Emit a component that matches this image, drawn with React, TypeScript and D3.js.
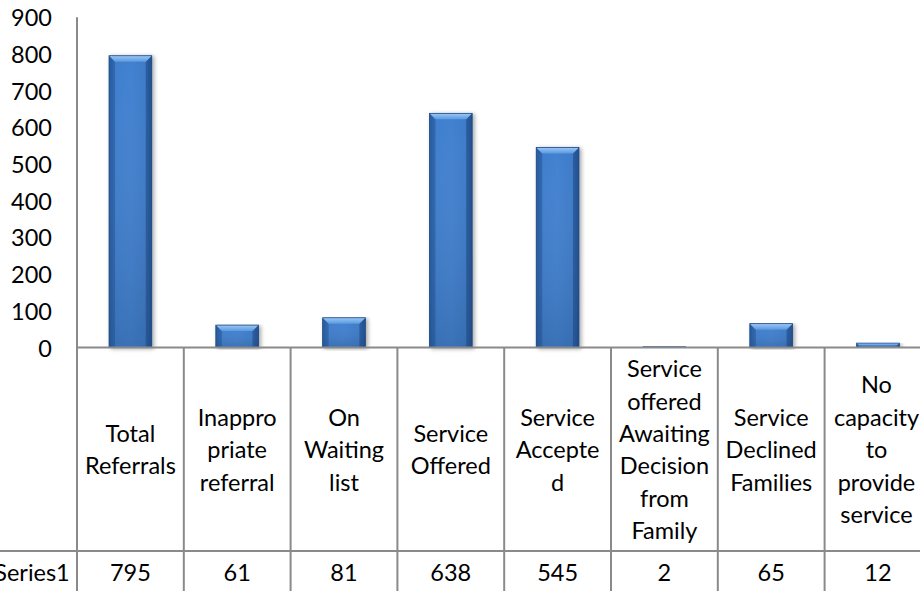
import React from "react";
import * as d3 from "d3";

const categories: string[][] = [
  ["Total", "Referrals"],
  ["Inappro", "priate", "referral"],
  ["On", "Waiting", "list"],
  ["Service", "Offered"],
  ["Service", "Accepte", "d"],
  ["Service", "offered", "Awaiting", "Decision", "from", "Family"],
  ["Service", "Declined", "Families"],
  ["No", "capacity", "to", "provide", "service"],
];
const series1: number[] = [795, 61, 81, 638, 545, 2, 65, 12];
const seriesName = "Series1";
const yTicks: number[] = [0, 100, 200, 300, 400, 500, 600, 700, 800, 900];

const W = 920;
const H = 591;
const axisX = 77;
const plotRight = 931.4;
const yTop = 17.2;
const yZero = 347.5;
const rowSplit = 551;
const FONT = "Lato, 'Open Sans', sans-serif";
const FS = 23.5;
const LINE = 32.4;
const GRAY = "#8a8a8a";

export default function App() {
  const keys = categories.map((_, i) => String(i));
  const y = d3.scaleLinear().domain([0, 900]).range([yZero, yTop]);
  const xBar = d3.scaleBand<string>().domain(keys).range([axisX, plotRight]).paddingInner(0.6).paddingOuter(0.3);
  const xCell = d3.scaleBand<string>().domain(keys).range([axisX, plotRight]).padding(0);
  const headerMid = (yZero + rowSplit) / 2;

  return (
    <svg width={W} height={H} style={{ position: "absolute", left: 0, top: 0, background: "#fff" }}>
      <defs>
        <linearGradient id="body" x1="0" x2="1" y1="0" y2="0">
          <stop offset="0" stopColor="#2f66ad" />
          <stop offset="0.12" stopColor="#3f7ecd" />
          <stop offset="0.5" stopColor="#4281d0" />
          <stop offset="0.88" stopColor="#3d7ac7" />
          <stop offset="1" stopColor="#2b5c9b" />
        </linearGradient>
        <linearGradient id="bodyV" x1="0" x2="0" y1="0" y2="1">
          <stop offset="0" stopColor="#ffffff" stopOpacity="0" />
          <stop offset="1" stopColor="#000000" stopOpacity="0.12" />
        </linearGradient>
        <linearGradient id="topFace" x1="0" x2="0" y1="0" y2="1">
          <stop offset="0" stopColor="#9cc8f5" />
          <stop offset="1" stopColor="#5a98e0" />
        </linearGradient>
        <filter id="shadow" x="-20%" y="-5%" width="150%" height="115%">
          <feGaussianBlur in="SourceAlpha" stdDeviation="2" />
          <feOffset dx="1.5" dy="1" result="b" />
          <feComponentTransfer>
            <feFuncA type="linear" slope="0.35" />
          </feComponentTransfer>
          <feMerge>
            <feMergeNode />
            <feMergeNode in="SourceGraphic" />
          </feMerge>
        </filter>
      </defs>

      {yTicks.map((t) => (
        <text key={t} x={52} y={y(t)} textAnchor="end" dominantBaseline="central" fontFamily={FONT} fontSize={FS} fill="#000">
          {t}
        </text>
      ))}

      {series1.map((v, i) => {
        const x0 = xBar(String(i))!;
        const bw = xBar.bandwidth();
        const top = y(v);
        const h = yZero - top;
        const b = Math.min(6, h * 0.5, bw / 4);
        const x1 = x0 + bw;
        return (
          <g key={i} filter="url(#shadow)">
            <rect x={x0} y={top} width={bw} height={h} fill="url(#body)" />
            <rect x={x0} y={top} width={bw} height={h} fill="url(#bodyV)" />
            <polygon points={`${x0},${top} ${x0 + b},${top + b} ${x0 + b},${yZero} ${x0},${yZero}`} fill="#1f4f8e" opacity={0.5} />
            <polygon points={`${x1},${top} ${x1 - b},${top + b} ${x1 - b},${yZero} ${x1},${yZero}`} fill="#1c4680" opacity={0.55} />
            <polygon points={`${x0},${top} ${x1},${top} ${x1 - b},${top + b} ${x0 + b},${top + b}`} fill="url(#topFace)" />
            <rect x={x0} y={top} width={bw} height={h} fill="none" stroke="#1e4a85" strokeWidth={0.8} />
          </g>
        );
      })}

      <line x1={axisX} x2={axisX} y1={yTop} y2={H} stroke={GRAY} strokeWidth={2} />
      <line x1={axisX} x2={W} y1={yZero} y2={yZero} stroke={GRAY} strokeWidth={2} />
      <line x1={0} x2={W} y1={rowSplit} y2={rowSplit} stroke={GRAY} strokeWidth={2} />
      {keys.slice(1).map((k) => (
        <line key={k} x1={xCell(k)!} x2={xCell(k)!} y1={yZero} y2={H} stroke={GRAY} strokeWidth={2} />
      ))}

      {categories.map((lines, i) => {
        const cx = xCell(String(i))! + xCell.bandwidth() / 2 - (i === categories.length - 1 ? 1.5 : 0);
        const start = headerMid - ((lines.length - 1) * LINE) / 2;
        return (
          <text key={i} textAnchor="middle" fontFamily={FONT} fontSize={FS} fill="#000">
            {lines.map((ln, j) => (
              <tspan key={j} x={cx} y={start + j * LINE} dominantBaseline="central">
                {ln}
              </tspan>
            ))}
          </text>
        );
      })}

      <text x={32} y={572} textAnchor="middle" dominantBaseline="central" fontFamily={FONT} fontSize={FS} fill="#000">
        {seriesName}
      </text>
      {series1.map((v, i) => (
        <text key={i} x={xCell(String(i))! + xCell.bandwidth() / 2} y={572} textAnchor="middle" dominantBaseline="central" fontFamily={FONT} fontSize={FS} fill="#000">
          {v}
        </text>
      ))}
    </svg>
  );
}
